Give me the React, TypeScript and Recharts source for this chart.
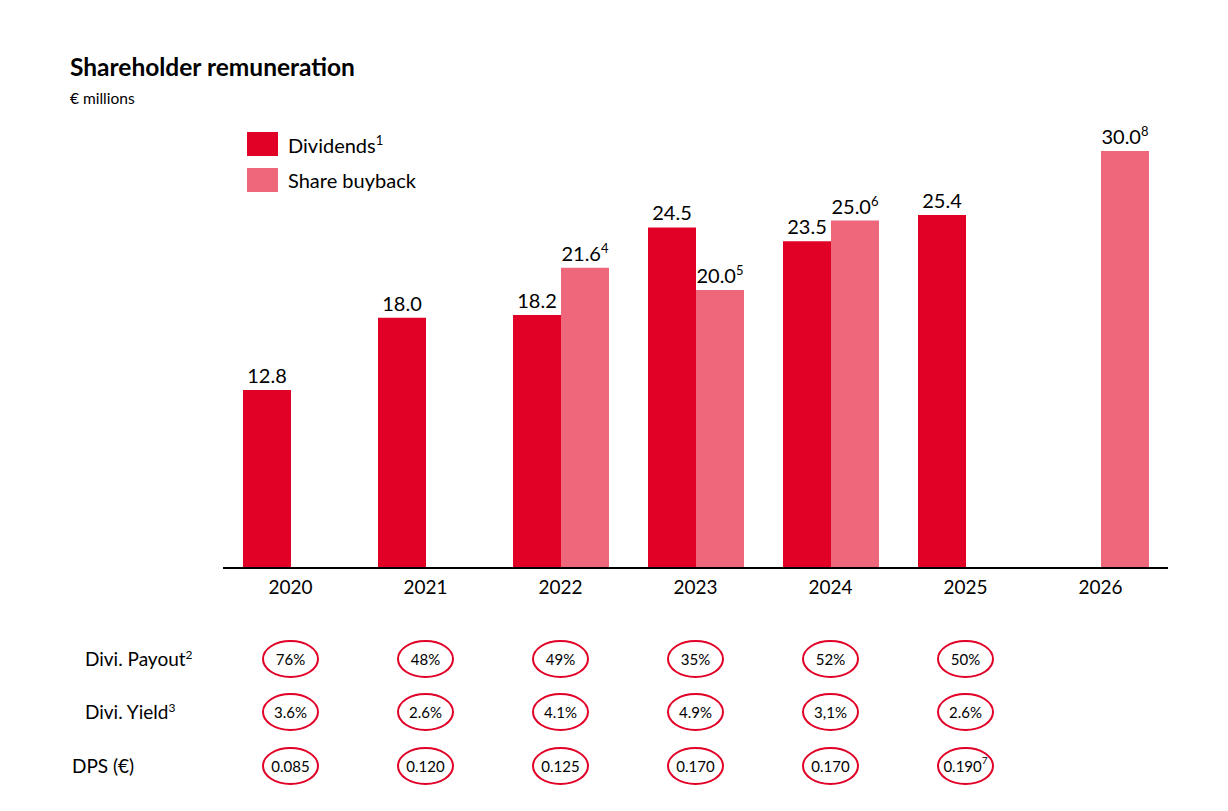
import React from 'react';
import { BarChart, Bar, XAxis, YAxis, LabelList } from 'recharts';

const years = ['2020', '2021', '2022', '2023', '2024', '2025', '2026'];
const dividends = [12.8, 18.0, 18.2, 24.5, 23.5, 25.4, null];
const buybacks = [null, null, 21.6, 20.0, 25.0, null, 30.0];
const buybackNotes = ['', '', '4', '5', '6', '', '8'];
const payoutRatios = ['76%', '48%', '49%', '35%', '52%', '50%', ''];
const dividendYields = ['3.6%', '2.6%', '4.1%', '4.9%', '3,1%', '2.6%', ''];
const dpsValues = ['0.085', '0.120', '0.125', '0.170', '0.170', '0.190', ''];
const dpsNotes = ['', '', '', '', '', '7', ''];

const RED = '#E10026';
const PINK = '#EE677B';
const FONT = 'Lato, "Open Sans", sans-serif';

// label strings carry the footnote after a "|"
const fmt = (v: number | null, note: string) => (v == null ? null : `${v.toFixed(1)}|${note}`);

const data = years.map((year, i) => ({
  year,
  dividends: dividends[i],
  buyback: buybacks[i],
  dividendsLabel: fmt(dividends[i], ''),
  buybackLabel: fmt(buybacks[i], buybackNotes[i]),
}));

const legendItems = [
  { label: 'Dividends', note: '1', color: RED },
  { label: 'Share buyback', note: '', color: PINK },
];

const rowLabels = [
  { label: 'Divi. Payout', note: '2', top: 659, left: 85 },
  { label: 'Divi. Yield', note: '3', top: 712, left: 85 },
  { label: 'DPS (€)', note: '', top: 766, left: 72 },
];

const ValueLabel = (props: any) => {
  const { x, y, width, value } = props;
  if (value == null) return null;
  const [num, note] = String(value).split('|');
  return (
    <text
      x={Number(x) + Number(width) / 2}
      y={Number(y) - 7}
      textAnchor="middle"
      fontFamily={FONT}
      fontSize={20}
      fill="#000"
    >
      {num}
      {note ? (
        <tspan fontSize={13} dy={-8}>
          {note}
        </tspan>
      ) : null}
    </text>
  );
};

function makeEllipseTick(values: string[], notes: string[] | null) {
  return (props: any) => {
    const { x, y, payload } = props;
    const i = years.indexOf(String(payload.value));
    const v = values[i];
    if (!v) return <g />;
    const cy = Number(y) + 27;
    const note = notes ? notes[i] : '';
    return (
      <g>
        <ellipse cx={x} cy={cy} rx={27.5} ry={18} fill="#fff" stroke={RED} strokeWidth={2} />
        <text
          x={x}
          y={cy}
          textAnchor="middle"
          dominantBaseline="central"
          fontFamily={FONT}
          fontSize={15}
          fill="#000"
        >
          {v}
          {note ? (
            <tspan fontSize={10} dy={-6}>
              {note}
            </tspan>
          ) : null}
        </text>
      </g>
    );
  };
}

export default function App() {
  return (
    <div
      style={{
        position: 'absolute',
        left: 0,
        top: 0,
        width: 1228,
        height: 811,
        background: '#fff',
        fontFamily: FONT,
        color: '#000',
      }}
    >
      <div style={{ position: 'absolute', left: 70, top: 52, fontSize: 24.5, fontWeight: 700 }}>
        Shareholder remuneration
      </div>
      <div style={{ position: 'absolute', left: 70, top: 89, fontSize: 15.5 }}>€ millions</div>

      {legendItems.map((item, i) => (
        <div
          key={item.label}
          style={{
            position: 'absolute',
            left: 247,
            top: 132 + i * 36,
            height: 24,
            display: 'flex',
            alignItems: 'center',
            fontSize: 20,
          }}
        >
          <span style={{ width: 31, height: 24, background: item.color, marginRight: 10 }} />
          <span>
            {item.label}
            {item.note ? <sup style={{ fontSize: 13 }}>{item.note}</sup> : null}
          </span>
        </div>
      ))}

      {rowLabels.map((row) => (
        <div
          key={row.label}
          style={{
            position: 'absolute',
            left: row.left,
            top: row.top - 14,
            height: 28,
            lineHeight: '28px',
            fontSize: 19,
          }}
        >
          {row.label}
          {row.note ? <sup style={{ fontSize: 12, lineHeight: 0 }}>{row.note}</sup> : null}
        </div>
      ))}

      <div style={{ position: 'absolute', left: 0, top: 0 }}>
        <BarChart
          width={1228}
          height={811}
          data={data}
          margin={{ top: 151, right: 60, left: 223, bottom: 27 }}
          barGap={0}
          barSize={48}
        >
          <YAxis hide domain={[0, 30]} />
          <XAxis
            dataKey="year"
            height={64}
            axisLine={{ stroke: '#000', strokeWidth: 2 }}
            tickLine={false}
            tickSize={0}
            tickMargin={13}
            tick={{ fill: '#000', fontSize: 19, fontFamily: FONT }}
            interval={0}
          />
          <XAxis
            xAxisId="r1"
            dataKey="year"
            height={53}
            axisLine={false}
            tickLine={false}
            tickSize={0}
            tickMargin={0}
            interval={0}
            tick={makeEllipseTick(payoutRatios, null)}
          />
          <XAxis
            xAxisId="r2"
            dataKey="year"
            height={54}
            axisLine={false}
            tickLine={false}
            tickSize={0}
            tickMargin={0}
            interval={0}
            tick={makeEllipseTick(dividendYields, null)}
          />
          <XAxis
            xAxisId="r3"
            dataKey="year"
            height={45}
            axisLine={false}
            tickLine={false}
            tickSize={0}
            tickMargin={0}
            interval={0}
            tick={makeEllipseTick(dpsValues, dpsNotes)}
          />
          <Bar dataKey="dividends" fill={RED} isAnimationActive={false}>
            <LabelList dataKey="dividendsLabel" content={ValueLabel} />
          </Bar>
          <Bar dataKey="buyback" fill={PINK} isAnimationActive={false}>
            <LabelList dataKey="buybackLabel" content={ValueLabel} />
          </Bar>
        </BarChart>
      </div>
    </div>
  );
}
